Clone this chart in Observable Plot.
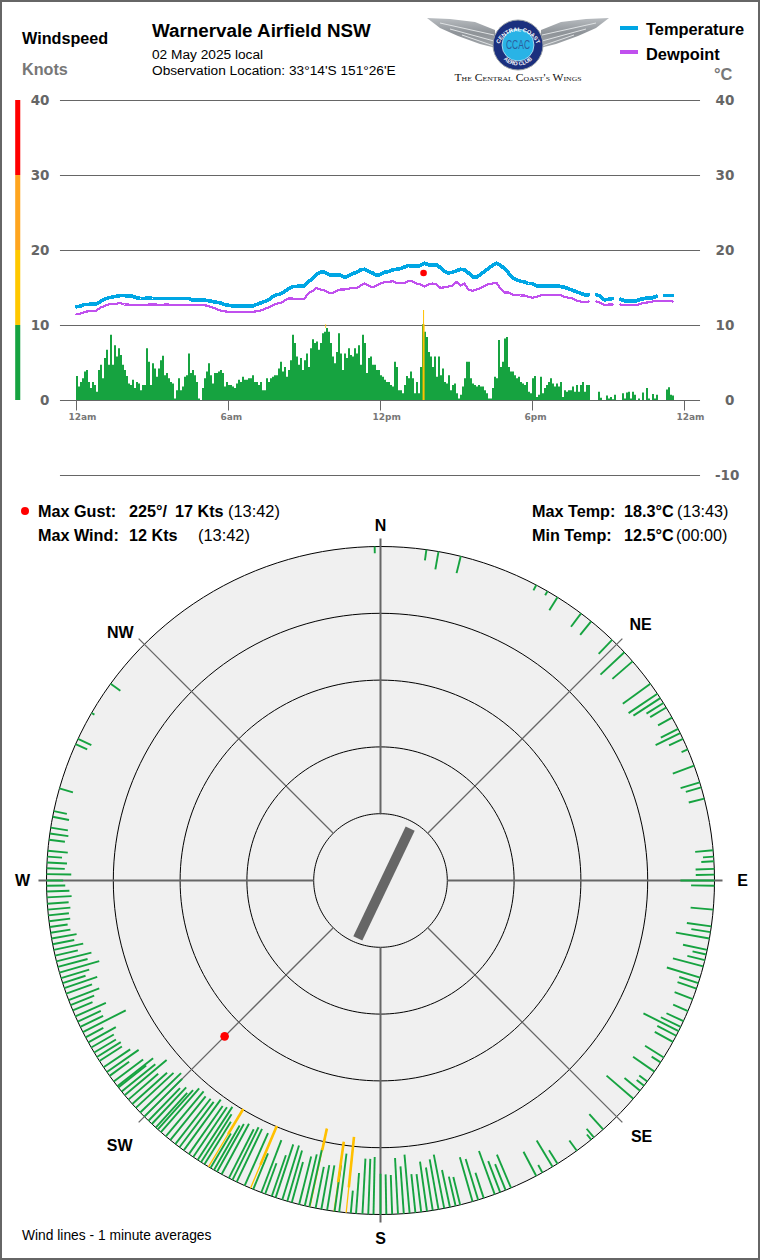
<!DOCTYPE html>
<html>
<head>
<meta charset="utf-8">
<script src="https://cdn.jsdelivr.net/npm/d3@7"></script>
<script src="https://cdn.jsdelivr.net/npm/@observablehq/plot@0.6"></script>
<style>
html,body{margin:0;padding:0;background:#fff}
#page{position:relative;width:760px;height:1260px;overflow:hidden;font-family:"Liberation Sans",Arial,sans-serif;color:#000}
#frame{position:absolute;left:0;top:0;width:756px;height:1256px;border:2px solid #666;pointer-events:none}
.t{position:absolute;white-space:nowrap;line-height:1;transform:translateY(-50%)}
.b{font-weight:bold}
.swatch{position:absolute;width:18px;height:4px}
</style>
</head>
<body>
<div id="page">
  <div class="t b" style="left:22px;top:38px;font-size:16.2px">Windspeed</div>
  <div class="t b" style="left:22px;top:69px;font-size:16.2px;color:#777">Knots</div>
  <div class="t b" style="left:152px;top:31px;font-size:18.8px">Warnervale Airfield NSW</div>
  <div class="t" style="left:152px;top:55px;font-size:13.7px">02 May 2025 local</div>
  <div class="t" style="left:152px;top:71px;font-size:13.7px">Observation Location: 33°14'S 151°26'E</div>
  <div class="swatch" style="left:620px;top:26px;background:#00a6e4"></div>
  <div class="t b" style="left:646px;top:29px;font-size:16.4px">Temperature</div>
  <div class="swatch" style="left:620px;top:50px;background:#c050ee"></div>
  <div class="t b" style="left:646px;top:54px;font-size:16.4px">Dewpoint</div>
  <div class="t b" style="left:714px;top:74px;font-size:16.4px;color:#777">°C</div>

  <svg id="logo" style="position:absolute;left:420px;top:8px" width="200" height="80" viewBox="0 0 200 80">
    <defs>
      <linearGradient id="wg" x1="0" y1="0" x2="0" y2="1"><stop offset="0" stop-color="#b8bcc0"/><stop offset="0.5" stop-color="#8e9398"/><stop offset="1" stop-color="#a4a8ac"/></linearGradient>
      <path id="arcTop" d="M 79 37 A 20 20 0 0 1 117 37"/>
      <path id="arcBot" d="M 81 48 A 20 20 0 0 0 115 48"/>
    </defs>
    <g id="wing">
      <path d="M7 10 L30 11 L55 14 L75 22 L76 40 L60 36 L38 28 L20 20 Z" fill="url(#wg)"/>
      <path d="M20 15 L74 27 M30 21 L74 33 M42 27 L74 38" stroke="#dfe2e4" stroke-width="1" fill="none"/>
    </g>
    <use href="#wing" transform="translate(196,0) scale(-1,1)"/>
    <circle cx="98" cy="37" r="25" fill="#1b2f7e" stroke="#9aa0a6" stroke-width="1"/>
    <circle cx="98" cy="37" r="16" fill="#29b3e6" stroke="#fff" stroke-width="0.6"/>
    <text x="98" y="41" text-anchor="middle" font-size="13" fill="#2c5f9e" font-family="Liberation Sans" textLength="24" lengthAdjust="spacingAndGlyphs">CCAC</text>
    <text font-size="5.6" font-weight="bold" fill="#fff" font-family="Liberation Sans"><textPath href="#arcTop" startOffset="50%" text-anchor="middle">CENTRAL COAST</textPath></text>
    <text font-size="5.4" font-weight="bold" fill="#fff" font-family="Liberation Sans"><textPath href="#arcBot" startOffset="50%" text-anchor="middle">AERO CLUB</textPath></text>
    <text x="98" y="72.5" text-anchor="middle" font-size="10.5" fill="#111" font-family="Liberation Serif" style="font-variant:small-caps" textLength="127" lengthAdjust="spacingAndGlyphs">The Central Coast's Wings</text>
  </svg>

  <div style="position:absolute;left:21px;top:507px;width:8px;height:8px;border-radius:50%;background:#f00"></div>
  <div class="t b" style="left:38px;top:511px;font-size:16.2px">Max Gust:</div>
  <div class="t b" style="left:129px;top:511px;font-size:16.2px">225°/</div>
  <div class="t b" style="left:175px;top:511px;font-size:16.2px">17 Kts</div>
  <div class="t" style="left:228px;top:511px;font-size:16.4px">(13:42)</div>
  <div class="t b" style="left:38px;top:535px;font-size:16.2px">Max Wind:</div>
  <div class="t b" style="left:129px;top:535px;font-size:16.2px">12 Kts</div>
  <div class="t" style="left:198px;top:535px;font-size:16.4px">(13:42)</div>
  <div class="t b" style="left:532px;top:511px;font-size:16.2px">Max Temp:</div>
  <div class="t b" style="left:624px;top:511px;font-size:16.2px">18.3°C</div>
  <div class="t" style="left:677px;top:511px;font-size:16.2px">(13:43)</div>
  <div class="t b" style="left:532px;top:535px;font-size:16.2px">Min Temp:</div>
  <div class="t b" style="left:624px;top:535px;font-size:16.2px">12.5°C</div>
  <div class="t" style="left:676px;top:535px;font-size:16.2px">(00:00)</div>
  <div class="t" style="left:22px;top:1236px;font-size:13.8px">Wind lines - 1 minute averages</div>
  <div id="frame"></div>
</div>
<script>
// Windspeed (knots) along the day
const windSpeedKt = [3.2,1.8,2.4,2.9,3.8,4.0,2.4,1.6,2.4,2.0,1.1,4.0,4.7,2.9,5.6,6.7,4.7,8.7,4.7,7.3,5.8,6.9,6.0,4.7,4.0,3.2,2.2,2.0,2.7,1.6,2.4,2.2,1.3,2.0,2.0,6.9,5.1,2.0,4.9,4.2,3.1,4.2,5.3,5.9,3.3,3.6,2.9,2.4,2.2,0.2,1.3,2.9,1.3,1.8,3.1,3.3,6.2,3.6,4.0,3.3,2.4,0.2,0,1.6,2.9,3.8,4.9,3.3,2.2,3.6,3.6,3.8,4.0,3.6,1.8,2.4,2.0,2.0,1.8,1.6,2.2,2.7,2.4,3.1,2.7,2.7,2.9,2.9,3.3,2.4,2.4,2.0,2.4,1.3,1.3,2.9,2.4,2.9,3.1,3.3,3.3,4.2,5.1,3.8,4.4,3.1,4.0,5.3,8.7,7.6,5.8,4.7,5.6,4.0,5.3,6.2,4.4,6.9,8.1,7.6,7.8,6.7,7.6,8.9,9.1,9.6,9.1,7.6,5.8,4.9,6.4,8.9,6.2,4.0,6.2,5.6,6.9,6.0,5.8,6.9,6.2,7.3,4.7,8.7,7.6,3.6,5.6,5.8,4.7,4.7,4.0,4.0,3.3,3.1,2.7,2.4,2.4,2.0,1.8,5.1,4.4,1.3,1.3,0.9,2.0,3.2,2.9,3.8,2.9,0.9,2.4,0.9,4.4,10.1,9.1,8.4,6.4,5.8,4.4,5.8,3.1,5.8,3.3,4.2,2.4,2.2,3.3,1.3,2.0,2.2,0.9,0.2,0.7,1.8,2.9,5.1,5.1,2.9,2.2,2.0,1.8,2.0,1.8,1.8,1.3,0.9,0.2,0.2,1.6,3.1,2.9,8.0,4.4,5.1,8.2,8.4,4.4,3.8,3.8,3.3,2.9,3.1,2.4,2.2,2.0,2.4,1.1,0.9,2.9,3.2,0.4,0.7,3.1,0.9,1.6,2.0,2.4,2.9,2.2,1.8,2.2,1.8,2.4,0.4,1.3,1.1,1.3,1.3,1.8,1.1,2.0,1.1,2.0,2.4,1.1,2.0,2.0,0,0,0,0,1.1,0.3,0,0,0.6,0.2,0.4,0.1,0.7,0,0,0,0.9,0.2,1.0,1.1,0.2,1.1,0.7,0,0.2,0,1.0,0,1.6,0.2,0,0.8,0.2,0.7,0,0,0,0,1.4,1.7,0.7,0.6];
const tempC = [12.5,12.6,12.8,12.8,12.9,12.9,13.2,13.5,13.7,13.8,13.9,14.0,14.0,13.9,13.9,13.7,13.6,13.6,13.7,13.6,13.6,13.6,13.6,13.6,13.6,13.6,13.6,13.6,13.6,13.4,13.4,13.4,13.4,13.3,13.2,13.1,13.0,12.8,12.7,12.6,12.6,12.6,12.6,12.6,12.6,12.8,13.0,13.2,13.4,13.8,14.1,14.2,14.5,14.9,15.2,15.2,15.3,15.3,15.9,16.2,16.8,17.1,17.1,16.8,16.7,16.7,16.7,16.4,16.6,16.9,17.1,17.4,17.5,17.2,17.0,16.7,16.8,17.1,17.2,17.4,17.5,17.6,17.8,18.0,17.9,17.9,18.0,18.3,18.1,18.1,18.1,17.7,17.2,17.0,17.1,17.3,17.5,17.4,17.0,16.5,16.4,16.8,17.2,17.6,18.0,18.3,18.0,17.6,17.0,16.4,16.1,15.9,15.8,15.6,15.6,15.3,15.3,15.3,15.3,15.3,15.3,15.2,15.1,14.9,14.7,14.5,14.3,14.1,14.1,null,14.1,13.9,13.4,13.5,13.6,null,13.5,13.3,13.3,13.3,13.3,13.5,13.6,13.7,13.7,13.9,null,14.0,14.0,14.0];
const dewpointC = [11.5,11.6,11.8,11.9,11.9,12.0,12.4,12.6,12.8,12.9,12.9,13.0,12.8,12.8,12.7,12.7,12.7,12.7,12.8,12.8,12.8,12.7,12.8,12.8,12.7,12.7,12.7,12.7,12.7,12.7,12.7,12.7,12.7,12.6,12.4,12.2,12.0,11.9,11.8,11.8,11.8,11.8,11.8,11.8,11.8,11.9,12.0,12.2,12.4,12.7,12.9,13.0,13.3,13.6,13.6,13.5,13.5,13.6,14.3,14.6,15.0,14.8,14.7,14.4,14.3,14.6,14.8,14.8,14.9,15.0,15.0,15.3,15.6,15.3,15.1,15.3,15.6,15.8,15.8,15.9,15.7,15.7,15.7,15.9,15.9,15.6,15.5,15.2,15.5,15.6,15.5,15.0,15.1,15.2,15.3,15.8,15.3,15.6,14.8,14.6,14.8,15.0,15.3,15.5,15.6,15.7,14.9,14.4,14.4,14.1,14.1,14.0,14.0,13.8,13.7,13.8,14.0,14.1,14.1,14.1,14.1,14.1,13.8,13.7,13.6,13.3,13.2,13.1,13.2,null,13.2,13.0,12.7,12.8,12.8,null,12.8,12.7,12.7,12.7,12.7,12.9,13.0,13.1,13.2,13.3,13.3,13.3,13.3,13.2];
// Sample spacing, minutes, of the series above
const windStepMin = 1440 / 304;
const tempStepMin = 1440 / 152;
// Peak minute markers
const peakMinute = 822, gustPeakKt = 17, windPeakKt = 12, windPeakTop = 10.1;
const earlyMinute = 590, earlyPeakKt = 10.1;
// Axes
const knotTicks = [40, 30, 20, 10, 0];
const rightTicks = [40, 30, 20, 10, 0];
const gridValues = [40, 30, 20, 10, 0, -10];
const timeTicks = [0, 360, 720, 1080, 1440];
const timeLabels = ["12am", "6am", "12pm", "6pm", "12am"];
const bandFrom = [30, 20, 10, 0];
const bandTo = [40, 30, 20, 10];
const bandColor = ["#ff0000", "#ffa51f", "#ffc800", "#16a340"];

// Wind rose: direction (deg) and 1-minute speed (kt)
const windDeg = [359,7.9,10,13.9,27.8,30,32,36.9,39.1,43.9,46.9,49,53.9,56,56.9,57.9,58.8,60.8,63,63.8,64.9,66.9,69.9,72.9,73.8,75.8,84.8,85.9,86.7,88,89,90,90.9,95,97.9,98.9,100,102,102.8,103.8,104.9,106.9,107.9,108.9,110.8,113,114.9,116,116.8,117.7,118.9,122,123,124.9,127,127.9,129,130.8,138.2,140.3,140.9,144,148,149,151,152.2,157,158,159,160,162,163,164,166.2,167,168,169,170,171,172,173,174,175,176,177,178,179,180,181.2,182.1,183.1,184.2,185.1,187.1,187.9,189.2,190.2,191.2,192.3,193.1,194.1,195.4,196.2,197.1,198.3,199,200.2,200.9,202.4,204,205.5,206.3,207,208.4,209.3,209.9,210.6,211.8,212.5,213.2,214.1,215,216.1,217,217.9,219,220,221.1,221.8,222.3,223.2,224,225,226,227.1,228,229,230,230.8,231.7,232,233,234.2,235,236,237.3,238.1,239,240,241,242,243,244,245,246,247.1,248.1,249,250.2,251.2,252.1,253,254,255,256,257,258,259,260,261,262,263,264,265,266,267.1,268.1,269.1,270,271.1,272.1,273.1,274.1,275.1,277,278.1,279.1,281,282,286,294.1,295.1,300.1,306.1];
const windKt = [1.0,1.6,2.7,2.6,0.9,0.7,2.3,2.5,2.6,2.9,4.9,4.0,5.1,5.2,4.8,3.0,2.8,2.4,2.9,4.1,2.3,1.0,3.4,3,2.4,2.4,2.7,1.6,1.9,2.8,2.8,5.1,3.5,3.4,3.7,2.9,5.1,3.7,2.1,2.7,4.7,5.2,3,3,2.9,2.4,2.8,3.3,5.9,3.2,3.1,3.3,1.6,3.9,1.5,1.4,3,5.3,3.1,1.7,1,1.9,2.4,4.6,1.3,4.1,5.4,4.2,5,6.9,4,6.4,6.9,4.3,4.5,5.7,8.2,7.6,6.5,7.5,5.7,5.8,8.8,7.1,8.4,5.9,6,6.1,8.6,8.3,8.3,6.1,3.4,8.8,7,6.8,6.7,6.3,8.9,7.9,7.4,6.3,7.9,8.5,8.4,6.5,4.9,8.4,5.8,8.6,8.8,8.8,8.2,8.6,8.2,7.7,6,7.5,8.5,9.5,9,8.8,9.4,8.5,8.6,8.4,8.8,8.7,7.9,7,7.5,6.8,8,8.5,7.7,7,5.9,8.2,6.5,5.3,6.8,5.5,3.6,5.8,4.8,4,4.2,3.8,3.9,4.7,3,7.2,3.8,3.8,5,3.2,3.8,4.9,4.1,5.2,3.6,4.4,6.2,4.6,5.4,3.5,4.5,3.3,3.8,3,2.7,3.2,3.1,3.4,3.2,3.7,3.4,2.8,2.5,3.7,2.7,3,2.2,3,2.4,2.8,2.6,2.5,2,2.1,1.9,2.2,0.5,1.8];
// Strong minutes over 10 kt: direction, speed, and speed where the heavy stroke begins
const strongDeg = [185.9, 188, 192.2, 202.9, 211];
const strongKt = [11.4, 10.5, 12, 10.1, 10.1];
const strongHeavyFromKt = [3.8, 4.4, 8.7, 3.8, 5.7];
// Gust marker and mean direction
const gustDeg = 225, gustKt = 17;
const meanDeg = 25.5, meanBarKt = 9.1;
// Rings every 10 kt, counted inward from the rim; rim is 0 kt, centre is 50 kt
const centreKt = 50;
const ringKt = [0, 10, 20, 30, 40];
const compassNames = ["N", "NE", "E", "SE", "S", "SW", "W", "NW"];
const compassDeg = [0, 45.5, 90, 134.5, 180, 224.5, 270, 313.6];
const compassRho = [53.1, 54.6, 54.2, 54.8, 53.6, 55.7, 53.6, 53.8];
const cardinalDeg = [0, 90, 180, 270];
const diagonalDeg = [45, 135, 225, 315];
const spokeInnerRho = 10, spokeOuterRho = 51.2;

const GREEN = "#16a340", YELLOW = "#ffc000", GRAY = "#666", LABEL = "#666";
const FONT = "DejaVu Sans";

const windRows = windSpeedKt.map((v, i) => ({m: i * windStepMin, v}));
const tempRows = tempC.map((v, i) => ({m: i * tempStepMin, v}));
const dewRows = dewpointC.map((v, i) => ({m: i * tempStepMin, v}));
const bands = bandFrom.map((f, i) => ({f, t: bandTo[i], c: bandColor[i]}));

const dayChart = Plot.plot({
  width: 760, height: 500,
  marginLeft: 76, marginRight: 76, marginTop: 100, marginBottom: 25,
  x: {domain: [0, 1440], axis: null},
  y: {domain: [-10, 40], axis: null},
  style: {background: "transparent", overflow: "visible"},
  marks: [
    Plot.ruleY(gridValues, {x1: -38, x2: 1478, stroke: GRAY, strokeWidth: 1}),
    Plot.rect(bands, {x1: -144, x2: -132, y1: "f", y2: "t", fill: "c"}),
    Plot.ruleX(timeTicks, {y1: 0, y2: -1.4, stroke: GRAY, strokeWidth: 1}),
    Plot.text(timeTicks, {x: d => d, y: -2.2, text: (d, i) => timeLabels[i], textAnchor: "start", dx: -8, fill: "#777", fontFamily: FONT, fontWeight: "bold", fontSize: 9}),
    Plot.text(knotTicks, {x: -64, y: d => d, text: d => String(d), textAnchor: "end", fill: LABEL, fontFamily: FONT, fontWeight: "bold", fontSize: 13.5}),
    Plot.text(rightTicks, {x: 1558, y: d => d, text: d => String(d), textAnchor: "end", fill: LABEL, fontFamily: FONT, fontWeight: "bold", fontSize: 13.5}),
    Plot.text([-10], {x: 1570, y: d => d, text: d => String(d), textAnchor: "end", fill: LABEL, fontFamily: FONT, fontWeight: "bold", fontSize: 13.5}),
    Plot.rect(windRows, {x1: "m", x2: d => d.m + windStepMin, y1: 0, y2: "v", fill: GREEN}),
    Plot.ruleX([earlyMinute], {y1: 9.6, y2: earlyPeakKt, stroke: YELLOW, strokeWidth: 0.8}),
    Plot.ruleX([peakMinute], {y1: 0, y2: windPeakKt, stroke: YELLOW, strokeWidth: 1}),
    Plot.ruleX([peakMinute], {y1: 0, y2: windPeakTop, stroke: YELLOW, strokeWidth: 2}),
    Plot.line(tempRows, {x: "m", y: "v", stroke: "#00a6e4", strokeWidth: 3.6, shapeRendering: "crispEdges"}),
    Plot.line(dewRows, {x: "m", y: "v", stroke: "#c050ee", strokeWidth: 2.2, shapeRendering: "crispEdges"}),
    Plot.dot([peakMinute], {x: d => d, y: gustPeakKt, r: 3.3, fill: "#f00"})
  ]
});
dayChart.style.position = "absolute";
dayChart.style.left = "0px";
dayChart.style.top = "0px";

// Polar helpers: rho is kt from the centre, so a speed sits at centreKt - speed
const rad = d => d * Math.PI / 180;
const px = (deg, rho) => rho * Math.sin(rad(deg));
const py = (deg, rho) => rho * Math.cos(rad(deg));
const span = 380 / 6.68;
const circleDeg = d3.range(0, 361, 2);
const ringRows = ringKt.flatMap(k => circleDeg.map(a => ({k, x: px(a, centreKt - k), y: py(a, centreKt - k)})));
const discRows = ringRows.filter(d => d.k === 0);
const spoke = deg => ({x1: px(deg, spokeInnerRho), y1: py(deg, spokeInnerRho), x2: px(deg, spokeOuterRho), y2: py(deg, spokeOuterRho)});
const windLines = windDeg.map((deg, i) => ({
  x1: px(deg, centreKt), y1: py(deg, centreKt),
  x2: px(deg, centreKt - windKt[i]), y2: py(deg, centreKt - windKt[i])
}));
const strongThin = strongDeg.map((deg, i) => ({
  x1: px(deg, centreKt), y1: py(deg, centreKt),
  x2: px(deg, centreKt - strongKt[i]), y2: py(deg, centreKt - strongKt[i])
}));
const strongHeavy = strongDeg.map((deg, i) => ({
  x1: px(deg, centreKt - strongHeavyFromKt[i]), y1: py(deg, centreKt - strongHeavyFromKt[i]),
  x2: px(deg, centreKt - strongKt[i]), y2: py(deg, centreKt - strongKt[i])
}));

const rose = Plot.plot({
  width: 760, height: 760, margin: 0,
  x: {domain: [-span, span], axis: null},
  y: {domain: [-span, span], axis: null},
  style: {background: "transparent", overflow: "visible"},
  marks: [
    Plot.line(discRows, {x: "x", y: "y", fill: "#f0f0f0", stroke: "none"}),
    Plot.line(ringRows, {x: "x", y: "y", z: "k", stroke: "#000", strokeWidth: 1}),
    Plot.link(cardinalDeg.map(spoke), {x1: "x1", y1: "y1", x2: "x2", y2: "y2", stroke: GRAY, strokeWidth: 2}),
    Plot.link(diagonalDeg.map(spoke), {x1: "x1", y1: "y1", x2: "x2", y2: "y2", stroke: GRAY, strokeWidth: 1.3}),
    Plot.link(strongThin, {x1: "x1", y1: "y1", x2: "x2", y2: "y2", stroke: YELLOW, strokeWidth: 1.3}),
    Plot.link(windLines, {x1: "x1", y1: "y1", x2: "x2", y2: "y2", stroke: GREEN, strokeWidth: 1.9}),
    Plot.link(strongHeavy, {x1: "x1", y1: "y1", x2: "x2", y2: "y2", stroke: YELLOW, strokeWidth: 2.6}),
    Plot.link([{
      x1: px(meanDeg, meanBarKt), y1: py(meanDeg, meanBarKt),
      x2: px(meanDeg + 180, meanBarKt), y2: py(meanDeg + 180, meanBarKt)
    }], {x1: "x1", y1: "y1", x2: "x2", y2: "y2", stroke: GRAY, strokeWidth: 10, dx: 3.5, dy: 3}),
    Plot.dot([gustDeg], {x: d => px(d, centreKt - gustKt), y: d => py(d, centreKt - gustKt), r: 4.3, fill: "#f00"}),
    Plot.text(compassNames, {
      x: (d, i) => px(compassDeg[i], compassRho[i]),
      y: (d, i) => py(compassDeg[i], compassRho[i]),
      text: d => d, fill: "#000",
      fontFamily: "Liberation Sans", fontWeight: "bold", fontSize: 16
    })
  ]
});
rose.style.position = "absolute";
rose.style.left = "0px";
rose.style.top = "500px";

const page = document.getElementById("page");
page.insertBefore(rose, page.firstChild);
page.insertBefore(dayChart, page.firstChild);
</script>
</body>
</html>
